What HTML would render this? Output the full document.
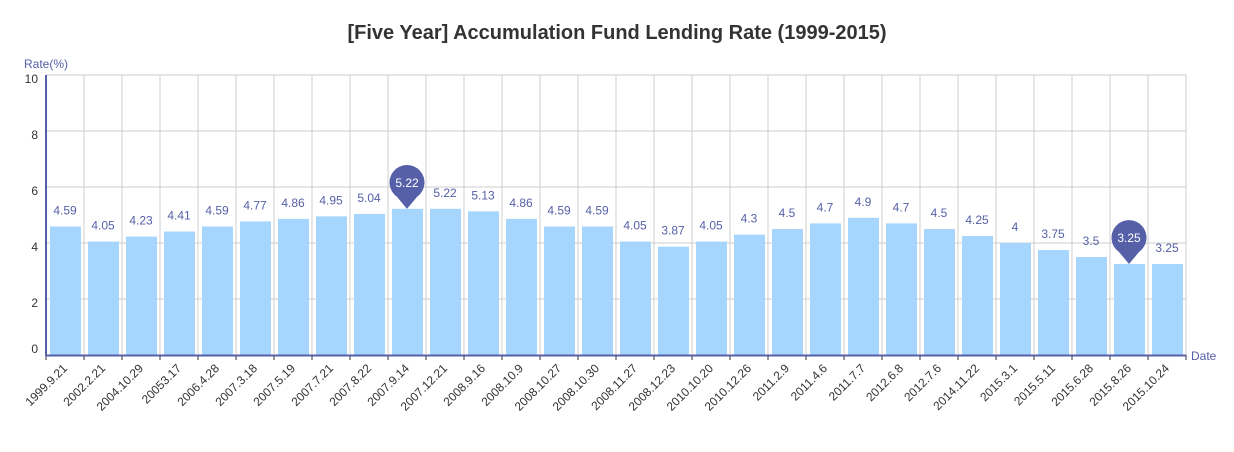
<!DOCTYPE html>
<html><head><meta charset="utf-8"><style>
body{margin:0;background:#fff;font-family:"Liberation Sans",sans-serif}
</style></head><body>
<svg id="c" width="1234" height="447" xmlns="http://www.w3.org/2000/svg">
<text x="617" y="39" text-anchor="middle" font-size="20" font-weight="bold" fill="#333">[Five Year] Accumulation Fund Lending Rate (1999-2015)</text>
<text x="24" y="68" font-size="12" fill="#5560a8">Rate(%)</text>
<text x="1191" y="360" font-size="12" fill="#5560a8">Date</text>
<g id="grid"></g><g id="bars"></g><g id="axes"></g>
</svg>
<script>
const categories=["1999.9.21","2002.2.21","2004.10.29","20053.17","2006.4.28","2007.3.18","2007.5.19","2007.7.21","2007.8.22","2007.9.14","2007.12.21","2008.9.16","2008.10.9","2008.10.27","2008.10.30","2008.11.27","2008.12.23","2010.10.20","2010.12.26","2011.2.9","2011.4.6","2011.7.7","2012.6.8","2012.7.6","2014.11.22","2015.3.1","2015.5.11","2015.6.28","2015.8.26","2015.10.24"];
const values=[4.59,4.05,4.23,4.41,4.59,4.77,4.86,4.95,5.04,5.22,5.22,5.13,4.86,4.59,4.59,4.05,3.87,4.05,4.3,4.5,4.7,4.9,4.7,4.5,4.25,4,3.75,3.5,3.25,3.25];
const valueLabels=["4.59","4.05","4.23","4.41","4.59","4.77","4.86","4.95","5.04","5.22","5.22","5.13","4.86","4.59","4.59","4.05","3.87","4.05","4.3","4.5","4.7","4.9","4.7","4.5","4.25","4","3.75","3.5","3.25","3.25"];
const yTicks=[0,2,4,6,8,10];
const pinned=[9,28];
const NS="http://www.w3.org/2000/svg";
const X0=46,X1=1186,Y0=355,Y1=75,yMax=10;
const bw=(X1-X0)/categories.length;
const y=v=>Y0-(v/yMax)*(Y0-Y1);
const x=i=>X0+i*bw;
function mk(t,a,p){const e=document.createElementNS(NS,t);for(const k in a)e.setAttribute(k,a[k]);p.appendChild(e);return e;}
const g=document.getElementById('grid'),b=document.getElementById('bars'),ax=document.getElementById('axes');
yTicks.forEach(t=>{
 const l=mk('line',{x1:X0,x2:X1,y1:y(t),y2:y(t),stroke:'#ccc'},g);
 
 
 const tx=mk('text',{x:38,y:y(t)+(t==0?-2:8),'text-anchor':'end','font-size':12,fill:'#333'},ax);
 tx.textContent=t;
 
 
});
for(let i=0;i<=categories.length;i++){
 const l=mk('line',{x1:x(i),x2:x(i),y1:Y1,y2:Y0,stroke:'#ccc'},g);
 
 
 const tk=mk('line',{x1:x(i),x2:x(i),y1:Y0,y2:Y0+5,stroke:'#333'},ax);
 
 
}
categories.forEach((c,i)=>{
 const v=values[i];
 const r=mk('rect',{x:x(i)+4,y:y(v),width:bw-7,height:Y0-y(v),fill:'#a6d5fd'},b);
 
 
 const cx=x(i)+bw/2;
 if(pinned.includes(i)){
  const ty=y(v), cy=ty-26;
  const p=mk('path',{d:`M${cx} ${ty} L${cx-10} ${cy+14} A17.5 17.5 0 1 1 ${cx+10} ${cy+14} Z`,fill:'#5560a8'},b);
  
  
  const t=mk('text',{x:cx,y:cy+4,'text-anchor':'middle','font-size':12,fill:'#fff'},b);
  t.textContent=valueLabels[i];
  
  
 }else{
  const t=mk('text',{x:cx,y:y(v)-12,'text-anchor':'middle','font-size':12,fill:'#5560a8'},b);
  t.textContent=valueLabels[i];
  
  
 }
 const lx=cx+3,ly=Y0+14;
 const t=mk('text',{x:lx,y:ly,'text-anchor':'end','font-size':12,fill:'#333',transform:`rotate(-45 ${lx} ${ly})`},ax);
 t.textContent=c;
 
 
});
const xa=mk('line',{x1:X0,x2:X1,y1:Y0+0.5,y2:Y0+0.5,stroke:'#5560a8','stroke-width':2},ax);


const ya=mk('line',{x1:X0,x2:X0,y1:Y1,y2:Y0+1,stroke:'#5560a8','stroke-width':2},ax);


</script>
</body></html>
